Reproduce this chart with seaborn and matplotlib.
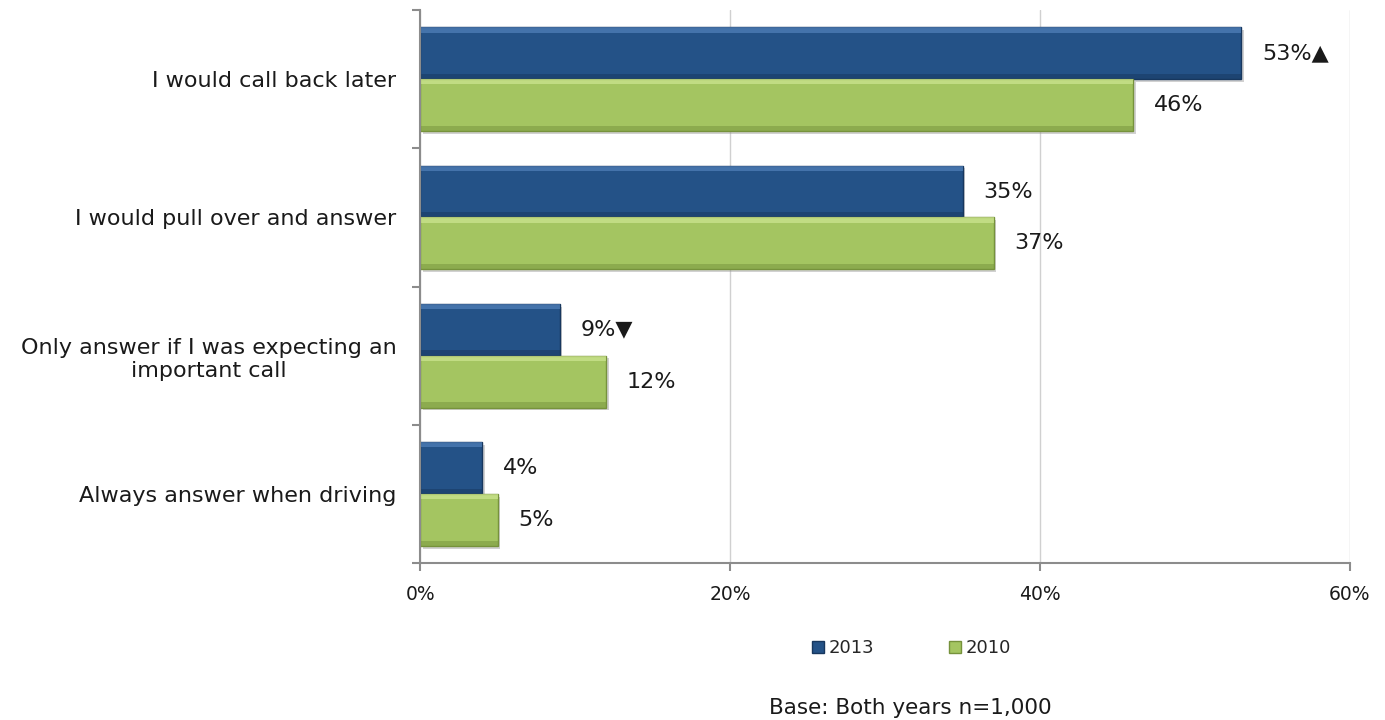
import matplotlib
matplotlib.use("Agg")
import matplotlib.pyplot as plt
import matplotlib.patheffects as pe
from matplotlib.patches import Rectangle
from matplotlib.ticker import FixedLocator, PercentFormatter
import numpy as np
import pandas as pd
import seaborn as sns

# Survey responses: what drivers do when the phone rings
categories = [
    "I would call back later",
    "I would pull over and answer",
    "Only answer if I was expecting an\nimportant call",
    "Always answer when driving",
]
years = ["2013", "2010"]
values_2013 = [53, 35, 9, 4]
values_2010 = [46, 37, 12, 5]
markers_2013 = ["\u25B2", "", "\u25BC", ""]  # significant change vs 2010

colors = {"2013": "#245287", "2010": "#A4C561"}
edge_colors = {"2013": "#17375E", "2010": "#76923C"}
highlight_colors = {"2013": "#5B8AC4", "2010": "#D6EC9A"}

df = pd.DataFrame({
    "category": categories * 2,
    "year": ["2013"] * len(categories) + ["2010"] * len(categories),
    "value": values_2013 + values_2010,
})

sns.set_theme(style="white")
plt.rcParams["font.family"] = ["DejaVu Sans"]

fig = plt.figure(figsize=(13.85, 7.2), dpi=100)
ax = fig.add_axes([0.3033, 0.218, 0.6714, 0.768])

sns.barplot(data=df, x="value", y="category", hue="year", order=categories,
            hue_order=years, palette=colors, orient="h", width=0.75,
            saturation=1, legend=False, ax=ax)

# Darker edges, a soft drop shadow and a bevel on every bar
for container, yr in zip(ax.containers, years):
    for patch in container.patches:
        patch.set_edgecolor(edge_colors[yr])
        patch.set_linewidth(1.0)
        patch.set_path_effects([
            pe.SimplePatchShadow(offset=(2, -2), shadow_rgbFace="#999999", alpha=0.45),
            pe.Normal(),
        ])
        x0, y0 = patch.get_x(), patch.get_y()
        w, h = patch.get_width(), patch.get_height()
        ax.add_patch(Rectangle((x0, y0), w, h * 0.1, facecolor=highlight_colors[yr],
                               edgecolor="none", alpha=0.6, zorder=patch.get_zorder() + 0.1))
        ax.add_patch(Rectangle((x0, y0 + h * 0.9), w, h * 0.1, facecolor=edge_colors[yr],
                               edgecolor="none", alpha=0.5, zorder=patch.get_zorder() + 0.1))

# Value labels next to each bar
label_sets = {
    "2013": [f"{v}%{m}" for v, m in zip(values_2013, markers_2013)],
    "2010": [f"{v}%" for v in values_2010],
}
for container, yr in zip(ax.containers, years):
    ax.bar_label(container, labels=label_sets[yr], padding=15, fontsize=16,
                 color="#1a1a1a")

ax.set_xlim(0, 60)
ax.set_ylim(3.5, -0.5)
ax.set_xticks([0, 20, 40, 60])
ax.xaxis.set_major_formatter(PercentFormatter(decimals=0))
ax.set_xlabel("")
ax.set_ylabel("")

ax.grid(axis="x", color="#D0D0D0", linewidth=1.0)
ax.set_axisbelow(True)

for side in ["top", "right"]:
    ax.spines[side].set_visible(False)
for side in ["left", "bottom"]:
    ax.spines[side].set_color("#8C8C8C")
    ax.spines[side].set_linewidth(1.5)

# Category boundaries marked by short ticks on the y axis
ax.yaxis.set_minor_locator(FixedLocator([-0.5, 0.5, 1.5, 2.5, 3.5]))
ax.tick_params(axis="y", which="major", length=0, pad=17, labelsize=16,
               labelcolor="#1a1a1a")
ax.tick_params(axis="y", which="minor", left=True, length=6, width=1.5,
               color="#8C8C8C")
ax.tick_params(axis="x", which="major", bottom=True, length=6, width=1.5,
               color="#8C8C8C", pad=10, labelsize=13.5, labelcolor="#1a1a1a")
for lbl in ax.get_yticklabels():
    lbl.set_multialignment("center")

# Legend below the axes
handles = [plt.Line2D([], [], marker="s", linestyle="", markersize=9,
                      markerfacecolor=colors[y], markeredgecolor=edge_colors[y])
           for y in years]
fig.legend(handles, years, loc="center", bbox_to_anchor=(0.657, 0.1), ncol=2,
           frameon=False, fontsize=13, handletextpad=0.1, columnspacing=4.0,
           handlelength=1.0)

fig.text(0.657, 0.017, "Base: Both years n=1,000", ha="center", va="center",
         fontsize=15.5, color="#1a1a1a")

fig.savefig("out.png", dpi=100)
